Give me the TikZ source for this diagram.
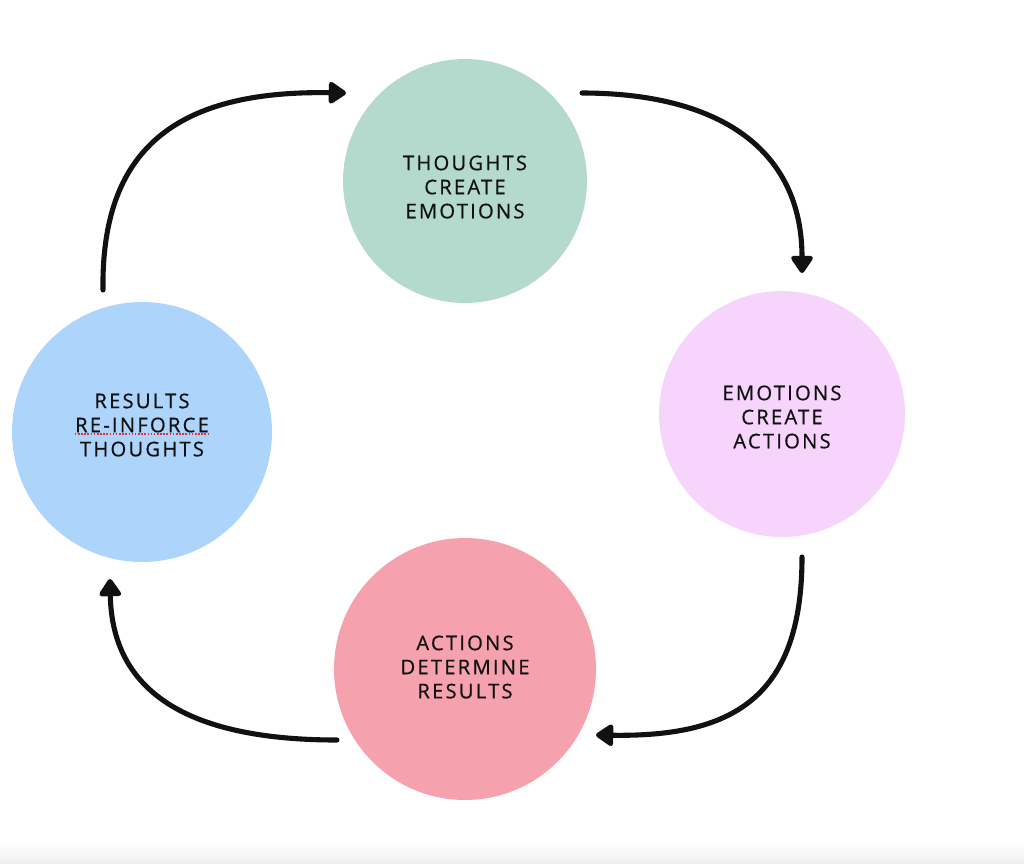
\documentclass[tikz,border=0pt]{standalone}
\usepackage{fontspec}
\setmainfont{Open Sans}
\newfontfamily\labelfont[LetterSpace=11,FakeBold=0.6]{Open Sans}
\usetikzlibrary{arrows.meta,decorations.pathmorphing}
\definecolor{cgreen}{HTML}{B4D9CD}
\definecolor{cviolet}{HTML}{F6D4FC}
\definecolor{cpink}{HTML}{F5A1AE}
\definecolor{cblue}{HTML}{ADD4FB}
\definecolor{cink}{HTML}{111111}
\definecolor{cspell}{HTML}{E0303A}
\begin{document}
\begin{tikzpicture}[x=0.02cm,y=-0.02cm,
  bubble/.style={circle,draw=none,inner sep=0pt},
  caption/.style={align=center,inner sep=0pt,text=cink,
    font=\labelfont\fontsize{11.5}{13.7}\selectfont},
  flow/.style={draw=cink,line width=2.9pt,line cap=round,
    -{Triangle[length=11pt,width=14pt,round]}}]
\useasboundingbox (0,0) rectangle (1024,863);
\shade[top color=white,bottom color=black!6,draw=none] (0,843) rectangle (1024,863);
% circles
\node[bubble,fill=cgreen,minimum size=4.88cm] (thoughts) at (465,181) {};
\node[bubble,fill=cviolet,minimum size=4.92cm] (emotions) at (782,414) {};
\node[bubble,fill=cpink,minimum size=5.24cm] (actions) at (465,669) {};
\node[bubble,fill=cblue,minimum size=5.2cm] (results) at (142,432) {};
% captions
\node[caption] (tthoughts) at (465,187) {THOUGHTS\\CREATE\\EMOTIONS};
\node[caption] (temotions) at (782,417) {EMOTIONS\\CREATE\\ACTIONS};
\node[caption] (tactions) at (465,667) {ACTIONS\\DETERMINE\\RESULTS};
\node[caption] (tresults) at (142,425) {RESULTS\\RE-INFORCE\\THOUGHTS};
% spell-check underline
\draw[cspell,line width=0.9pt,dash pattern=on 0.9pt off 0.9pt]
  ([yshift=-5pt]tresults.west) -- ([yshift=-5pt]tresults.east);
% connector end points
\coordinate (a1) at (103,290);
\coordinate (b1) at (346,93);
\coordinate (a2) at (582,93);
\coordinate (b2) at (802,273);
\coordinate (a3) at (802,557);
\coordinate (b3) at (596,735);
\coordinate (a4) at (337,740);
\coordinate (b4) at (110,579);
% connectors
\draw[flow] (a1) .. controls (101,150) and (175,90) .. (b1);
\draw[flow] (a2) .. controls (720,93) and (802,150) .. (b2);
\draw[flow] (a3) .. controls (802,700) and (730,737) .. (b3);
\draw[flow] (a4) .. controls (185,740) and (112,690) .. (b4);
\end{tikzpicture}
\end{document}
